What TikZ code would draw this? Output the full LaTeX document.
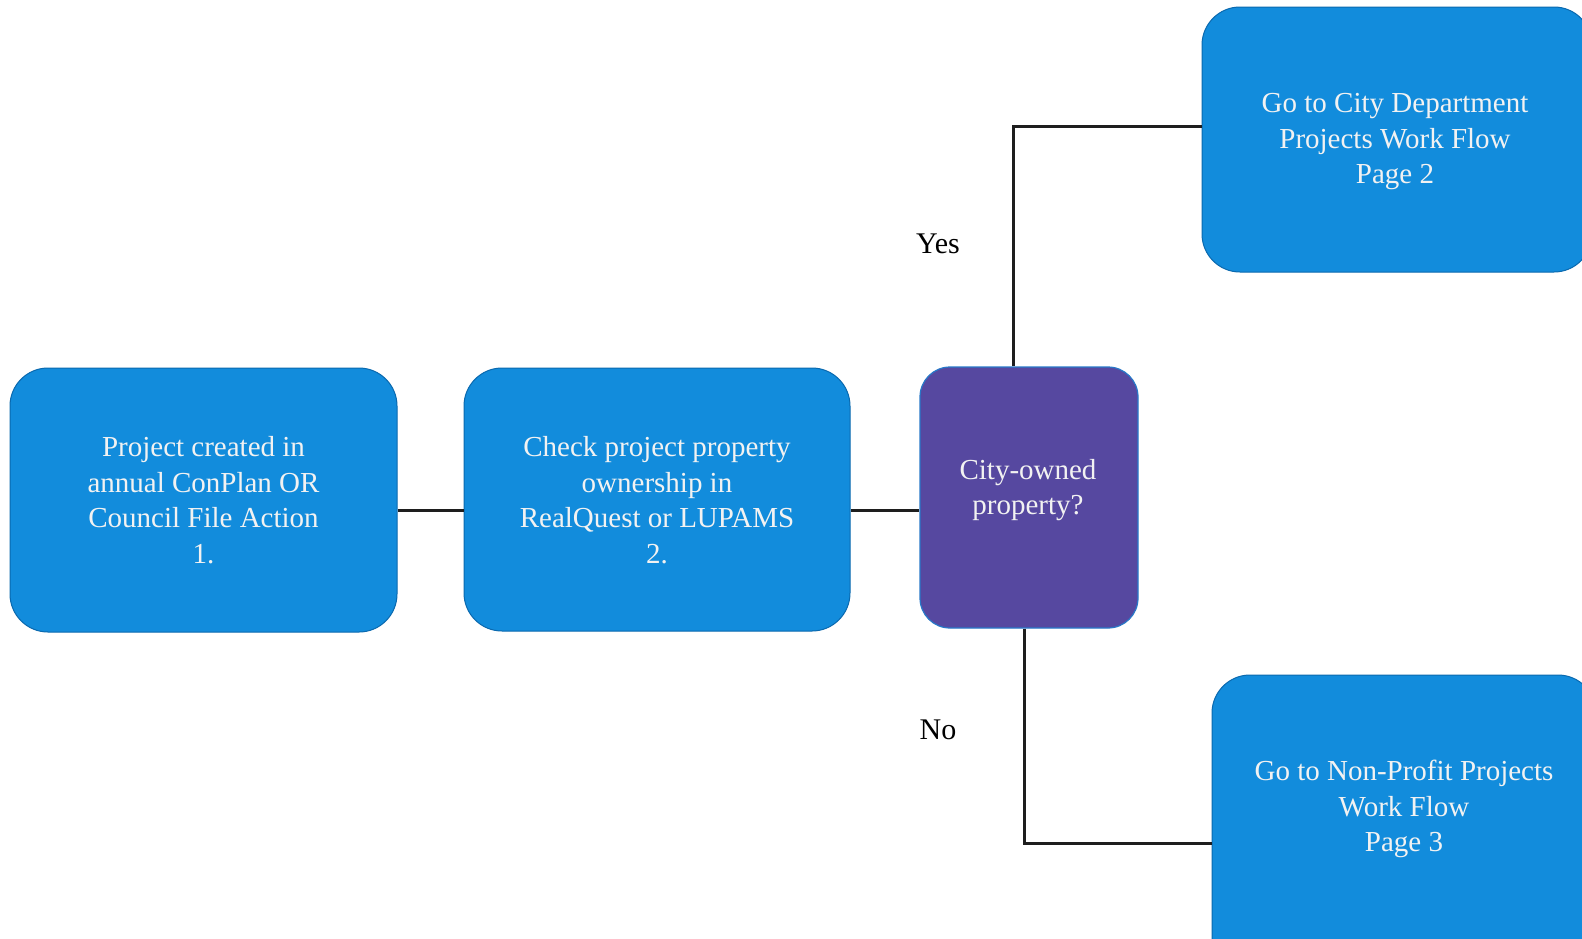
\documentclass[tikz,border=0pt]{standalone}
\usepackage{fontspec}
\setmainfont{Liberation Serif}
\definecolor{boxblue}{RGB}{18,140,220}
\definecolor{boxedge}{RGB}{10,105,175}
\definecolor{boxpurple}{RGB}{86,72,160}
\definecolor{purpleedge}{RGB}{40,120,200}
\definecolor{txtwhite}{RGB}{242,242,242}
\definecolor{linecol}{RGB}{30,30,30}
\begin{document}
\begin{tikzpicture}[x=1pt,y=-1pt,
  bluebox/.style={draw=boxedge, line width=1pt, fill=boxblue, rounded corners=38pt,
    inner sep=0pt},
  purplebox/.style={draw=purpleedge, line width=1.2pt, fill=boxpurple, rounded corners=30pt,
    inner sep=0pt},
  boxtext/.style={text=txtwhite, align=center, font=\fontsize{29}{35.5}\selectfont},
  conn/.style={draw=linecol, line width=3pt},
  lbl/.style={font=\fontsize{30}{35}\selectfont, text=black}]
\useasboundingbox (0,0) rectangle (1582,938);
\fill[white] (0,0) rectangle (1582,938);
% boxes
\node[bluebox, minimum width=387pt, minimum height=264pt] (b1) at (203.5,500) {};
\node[boxtext] (t1) at (203.5,500) {Project created in\\annual ConPlan OR\\Council File Action\\1.};
\node[bluebox, minimum width=386pt, minimum height=263pt] (b2) at (657,499.5) {};
\node[boxtext] (t2) at (657,500) {Check project property\\ownership in\\RealQuest or LUPAMS\\2.};
\node[purplebox, minimum width=218pt, minimum height=261pt] (p) at (1029,497.5) {};
\node[boxtext] (tp) at (1028,490) {City-owned\\property?};
\node[bluebox, minimum width=390pt, minimum height=265pt] (b4) at (1397,139.5) {};
\node[boxtext] (t4) at (1395,142) {Go to City Department\\Projects Work Flow\\Page 2};
\node[bluebox, minimum width=384pt, minimum height=300pt] (b5) at (1404,825) {};
\node[boxtext] (t5) at (1404,809) {Go to Non-Profit Projects\\Work Flow\\Page 3};
% connectors
\coordinate (h) at (0,510);
\draw[conn] (b1.east |- h) -- (b2.west |- h);
\draw[conn] (b2.east |- h) -- (p.west |- h);
\coordinate (ty) at (1013,126);
\draw[conn] (ty |- p.north) -- (ty) -- (ty -| b4.west);
\coordinate (tn) at (1024,843);
\draw[conn] (tn |- p.south) -- (tn) -- (tn -| b5.west);
% labels
\node[lbl] (yes) at (938,244) {Yes};
\node[lbl] (no) at (938,730) {No};
\end{tikzpicture}
\end{document}
